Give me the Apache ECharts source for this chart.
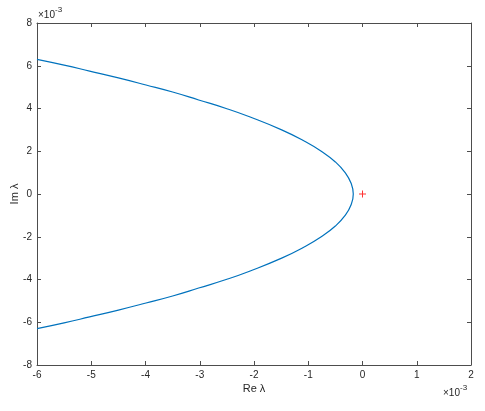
<!DOCTYPE html>
<html>
<head>
<meta charset="utf-8">
<script src="https://cdn.jsdelivr.net/npm/echarts@6/dist/echarts.min.js"></script>
<style>
  html, body { margin: 0; padding: 0; background: #fff; }
  #chart { width: 485px; height: 411px; }
</style>
</head>
<body>
<div id="chart"></div>
<script>
// values in units of 1e-3
var curveRe = [-6.0, -5.5, -5.03, -4.5, -3.99, -3.5, -3.02, -2.5, -2.07, -1.49, -1.09, -0.76, -0.5, -0.32, -0.21, -0.17,
               -0.21, -0.32, -0.5, -0.76, -1.09, -1.49, -2.07, -2.5, -3.02, -3.5, -3.99, -4.5, -5.03, -5.5, -6.0];
var curveIm = [6.3, 6.03, 5.75, 5.43, 5.1, 4.77, 4.4, 3.99, 3.6, 3.0, 2.5, 2.0, 1.5, 1.0, 0.5, 0,
               -0.5, -1.0, -1.5, -2.0, -2.5, -3.0, -3.6, -3.99, -4.4, -4.77, -5.1, -5.43, -5.75, -6.03, -6.3];
var markRe = [0];
var markIm = [0];

var axisColor = "#4d4d4d";
var labelColor = "#262626";
var fontFam = "'Liberation Sans', Arial, sans-serif";

var chart = echarts.init(document.getElementById("chart"));

var curve = curveRe.map(function (x, i) { return [x, curveIm[i]]; });
var marks = markRe.map(function (x, i) { return [x, markIm[i]]; });

chart.setOption({
  animation: false,
  grid: { left: 37, right: 14, top: 23, bottom: 46, containLabel: false, outerBoundsMode: "none" },
  xAxis: [
    {
      type: "value", min: -6, max: 2, interval: 1,
      name: "Re λ", nameLocation: "middle", nameGap: 18, nameMoveOverlap: false,
      nameTextStyle: { color: labelColor, fontSize: 11, fontFamily: fontFam },
      axisLine: { show: true, onZero: false, lineStyle: { color: axisColor } },
      axisTick: { show: true, inside: true, length: 4, lineStyle: { color: axisColor } },
      axisLabel: { color: labelColor, fontSize: 10, fontFamily: fontFam, margin: 5 },
      splitLine: { show: false }
    },
    {
      type: "value", min: -6, max: 2, interval: 1, position: "top",
      axisLine: { show: true, onZero: false, lineStyle: { color: axisColor } },
      axisTick: { show: true, inside: true, length: 4, lineStyle: { color: axisColor } },
      axisLabel: { show: false },
      splitLine: { show: false }
    }
  ],
  yAxis: [
    {
      type: "value", min: -8, max: 8, interval: 2,
      name: "Im λ", nameLocation: "middle", nameGap: 17, nameRotate: 90, nameMoveOverlap: false,
      nameTextStyle: { color: labelColor, fontSize: 11, fontFamily: fontFam },
      axisLine: { show: true, onZero: false, lineStyle: { color: axisColor } },
      axisTick: { show: true, inside: true, length: 4, lineStyle: { color: axisColor } },
      axisLabel: { color: labelColor, fontSize: 10, fontFamily: fontFam, margin: 5 },
      splitLine: { show: false }
    },
    {
      type: "value", min: -8, max: 8, interval: 2, position: "right",
      axisLine: { show: true, onZero: false, lineStyle: { color: axisColor } },
      axisTick: { show: true, inside: true, length: 4, lineStyle: { color: axisColor } },
      axisLabel: { show: false },
      splitLine: { show: false }
    }
  ],
  graphic: [
    {
      type: "text", left: 38, top: 6,
      style: {
        text: "{a|×10}{b|-3}",
        rich: {
          a: { fontSize: 10, fill: labelColor, fontFamily: fontFam, verticalAlign: "bottom" },
          b: { fontSize: 8, fill: labelColor, fontFamily: fontFam, verticalAlign: "top", padding: [0, 0, 6, 0] }
        }
      }
    },
    {
      type: "text", left: 443, top: 384,
      style: {
        text: "{a|×10}{b|-3}",
        rich: {
          a: { fontSize: 10, fill: labelColor, fontFamily: fontFam, verticalAlign: "bottom" },
          b: { fontSize: 8, fill: labelColor, fontFamily: fontFam, verticalAlign: "top", padding: [0, 0, 6, 0] }
        }
      }
    }
  ],
  series: [
    {
      type: "line",
      data: curve,
      smooth: true,
      showSymbol: false,
      lineStyle: { color: "#0072BD", width: 1.2 }
    },
    {
      type: "scatter",
      data: marks,
      symbol: "path://M3,0h1v3h3v1h-3v3h-1v-3h-3v-1h3z",
      symbolSize: 7,
      itemStyle: { color: "#ff0000" }
    }
  ]
});
</script>
</body>
</html>
